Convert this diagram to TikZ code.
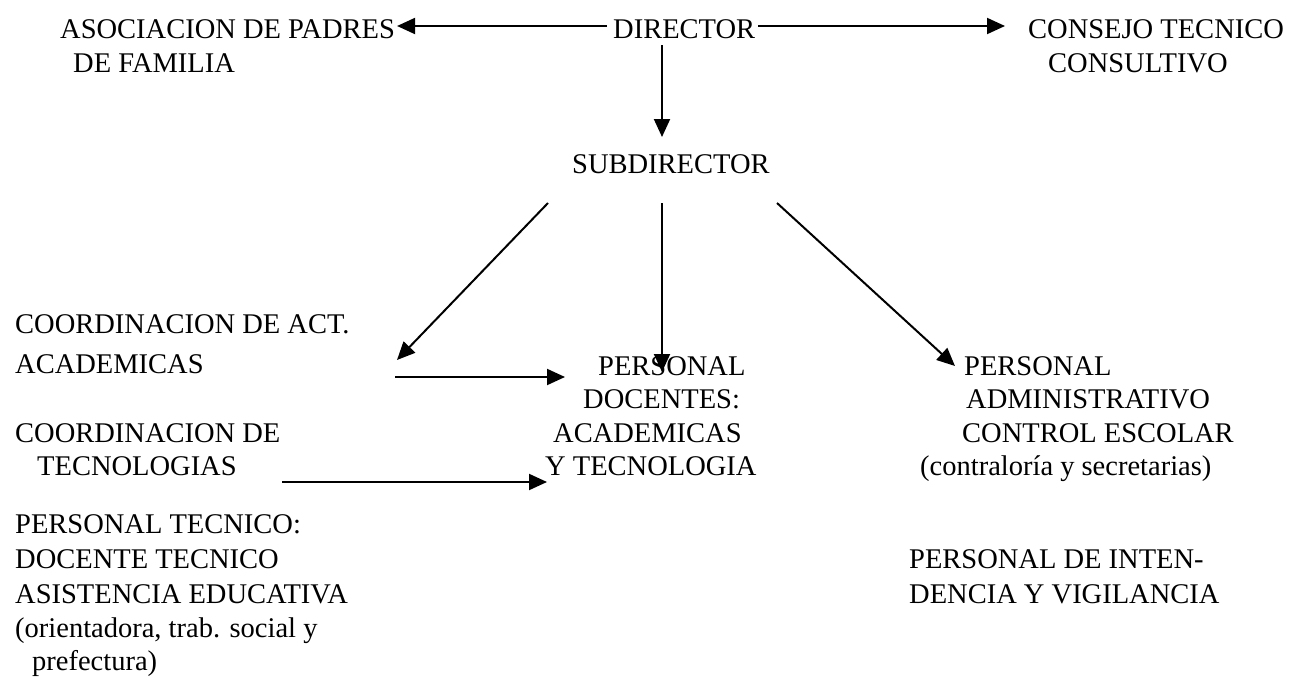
\documentclass[tikz,border=0pt]{standalone}
\usepackage{fontspec}
\setmainfont{Liberation Serif}
\usetikzlibrary{arrows.meta,calc}
\begin{document}
\begin{tikzpicture}[x=1pt,y=-1pt,
  lbl/.style={inner sep=0pt, anchor=base west, font=\fontsize{28.5}{34}\selectfont},
  arr/.style={-{Triangle[length=18pt,width=16pt]}, line width=2pt}]
\useasboundingbox (0,0) rectangle (1291,680);
% top row
\node[lbl] (asoc1) at (60,38) {ASOCIACION DE PADRES};
\node[lbl] (asoc2) at (73,72) {DE FAMILIA};
\node[lbl] (dir) at (613,38) {DIRECTOR};
\node[lbl] (cons1) at (1028,38) {CONSEJO TECNICO};
\node[lbl] (cons2) at (1048,72) {CONSULTIVO};
\node[lbl] (sub) at (572,173) {SUBDIRECTOR};
% left column
\node[lbl] (coa1) at (15,333) {COORDINACION DE ACT.};
\node[lbl] (coa2) at (15,373) {ACADEMICAS};
\node[lbl] (cot1) at (15,442) {COORDINACION DE};
\node[lbl] (cot2) at (37,475) {TECNOLOGIAS};
\node[lbl] (pt1) at (15,533) {PERSONAL TECNICO:};
\node[lbl] (pt2) at (15,568) {DOCENTE TECNICO};
\node[lbl] (pt3) at (15,603) {ASISTENCIA EDUCATIVA};
\node[lbl] (pt4) at (15,637) {(orientadora, trab. social y};
\node[lbl] (pt5) at (32,670) {prefectura)};
% middle column
\node[lbl] (pd1) at (598,375) {PERSONAL};
\node[lbl] (pd2) at (583,408) {DOCENTES:};
\node[lbl] (pd3) at (553,442) {ACADEMICAS};
\node[lbl] (pd4) at (545,475) {Y TECNOLOGIA};
% right column
\node[lbl] (pa1) at (964,375) {PERSONAL};
\node[lbl] (pa2) at (966,408) {ADMINISTRATIVO};
\node[lbl] (pa3) at (962,442) {CONTROL ESCOLAR};
\node[lbl] (pa4) at (920,475) {(contraloría y secretarias)};
\node[lbl] (pi1) at (909,568) {PERSONAL DE INTEN-};
\node[lbl] (pi2) at (909,603) {DENCIA Y VIGILANCIA};
% connector end points
\coordinate (dL) at ($(dir.base west)+(-6,-12)$);
\coordinate (dR) at ($(dir.base east)+(3,-12)$);
\coordinate (dB) at (662,45);
\coordinate (aE) at ($(asoc1.base east)+(2,-12)$);
\coordinate (cW) at ($(cons1.base west)+(-23,-12)$);
\coordinate (sT) at (662,137);
\coordinate (s1) at (548,203);
\coordinate (s2) at (662,203);
\coordinate (s3) at (777,203);
\coordinate (coaT) at (397,360);
\coordinate (coaS) at (395,377);
\coordinate (cotS) at (282,482);
\coordinate (pdT) at (662,372);
\coordinate (pdA) at (565,377);
\coordinate (pdB) at (547,482);
\coordinate (paT) at (955,366);
% connectors
\draw[arr] (dL) -- (aE);
\draw[arr] (dR) -- (cW);
\draw[arr] (dB) -- (sT);
\draw[arr] (s1) -- (coaT);
\draw[arr] (s2) -- (pdT);
\draw[arr] (s3) -- (paT);
\draw[arr] (coaS) -- (pdA);
\draw[arr] (cotS) -- (pdB);
\end{tikzpicture}
\end{document}
